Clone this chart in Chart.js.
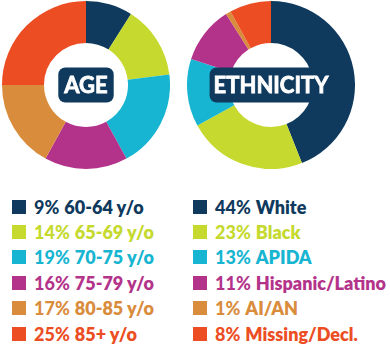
<!DOCTYPE html>
<html>
<head>
<meta charset="utf-8">
<script src="https://cdn.jsdelivr.net/npm/chart.js@4"></script>
<style>
  body { margin: 0; background: #fff; width: 390px; height: 345px; overflow: hidden; position: relative; font-family: Lato, "Open Sans", sans-serif; }
  .pie { position: absolute; top: 1px; width: 168px; height: 168px; }
  #agePie { left: 2px; }
  #ethPie { left: 187px; }
  .legend { position: absolute; top: 194px; }
  #ageLegend { left: 12px; }
  #ethLegend { left: 193px; }
  .row { height: 25.4px; display: flex; align-items: center; white-space: nowrap; font-size: 18px; font-weight: 800; }
  .sq { width: 14px; height: 14px; margin-right: 8px; flex: none; }
  .pct { font-weight: 900; margin-right: 5px; }
</style>
</head>
<body>
<div class="pie" id="agePie"><canvas id="ageChart"></canvas></div>
<div class="pie" id="ethPie"><canvas id="ethChart"></canvas></div>
<div class="legend" id="ageLegend"></div>
<div class="legend" id="ethLegend"></div>
<script>
const ageLabels = ['60-64 y/o', '65-69 y/o', '70-75 y/o', '75-79 y/o', '80-85 y/o', '85+ y/o'];
const ageValues = [9, 14, 19, 16, 17, 25];
const ethLabels = ['White', 'Black', 'APIDA', 'Hispanic/Latino', 'AI/AN', 'Missing/Decl.'];
const ethValues = [44, 23, 13, 11, 1, 8];
const colors = ['#0f3a5d', '#c5d92f', '#17b5d1', '#b4338a', '#d98c3c', '#ec4d22'];

// dark rounded badge in the middle of each donut
const badge = {
  id: 'badge',
  afterDraw(chart, args, opts) {
    const c = chart.ctx;
    const m = chart.getDatasetMeta(0).data[0];
    const cx = m.x, cy = m.y;
    c.save();
    c.font = 'bold 22px Lato';
    const w = c.measureText(opts.text).width + opts.pad * 2;
    const h = 35;
    c.fillStyle = '#0f3a5d';
    c.beginPath();
    c.roundRect(cx - w / 2, cy - h / 2, w, h, 7);
    c.fill();
    c.fillStyle = '#fff';
    c.strokeStyle = '#fff';
    c.lineWidth = 0.8;
    c.textAlign = 'center';
    c.textBaseline = 'middle';
    c.fillText(opts.text, cx, cy + 1);
    c.strokeText(opts.text, cx, cy + 1);
    c.restore();
  }
};

function makePie(id, labels, values, text, pad) {
  new Chart(document.getElementById(id), {
    type: 'doughnut',
    data: {
      labels: labels,
      datasets: [{ data: values, backgroundColor: colors, borderWidth: 0 }]
    },
    options: {
      responsive: true,
      maintainAspectRatio: false,
      animation: false,
      cutout: '50%',
      plugins: {
        legend: { display: false },
        tooltip: { enabled: false },
        badge: { text: text, pad: pad }
      }
    },
    plugins: [badge]
  });
}

function makeLegend(id, labels, values) {
  const box = document.getElementById(id);
  labels.forEach((l, i) => {
    const row = document.createElement('div');
    row.className = 'row';
    row.style.color = colors[i];
    row.innerHTML = '<span class="sq" style="background:' + colors[i] + '"></span>' +
      '<span class="pct">' + values[i] + '%</span><span>' + l + '</span>';
    box.appendChild(row);
  });
}

makePie('ageChart', ageLabels, ageValues, 'AGE', 6);
makePie('ethChart', ethLabels, ethValues, 'ETHNICITY', 4);
makeLegend('ageLegend', ageLabels, ageValues);
makeLegend('ethLegend', ethLabels, ethValues);
</script>
</body>
</html>
